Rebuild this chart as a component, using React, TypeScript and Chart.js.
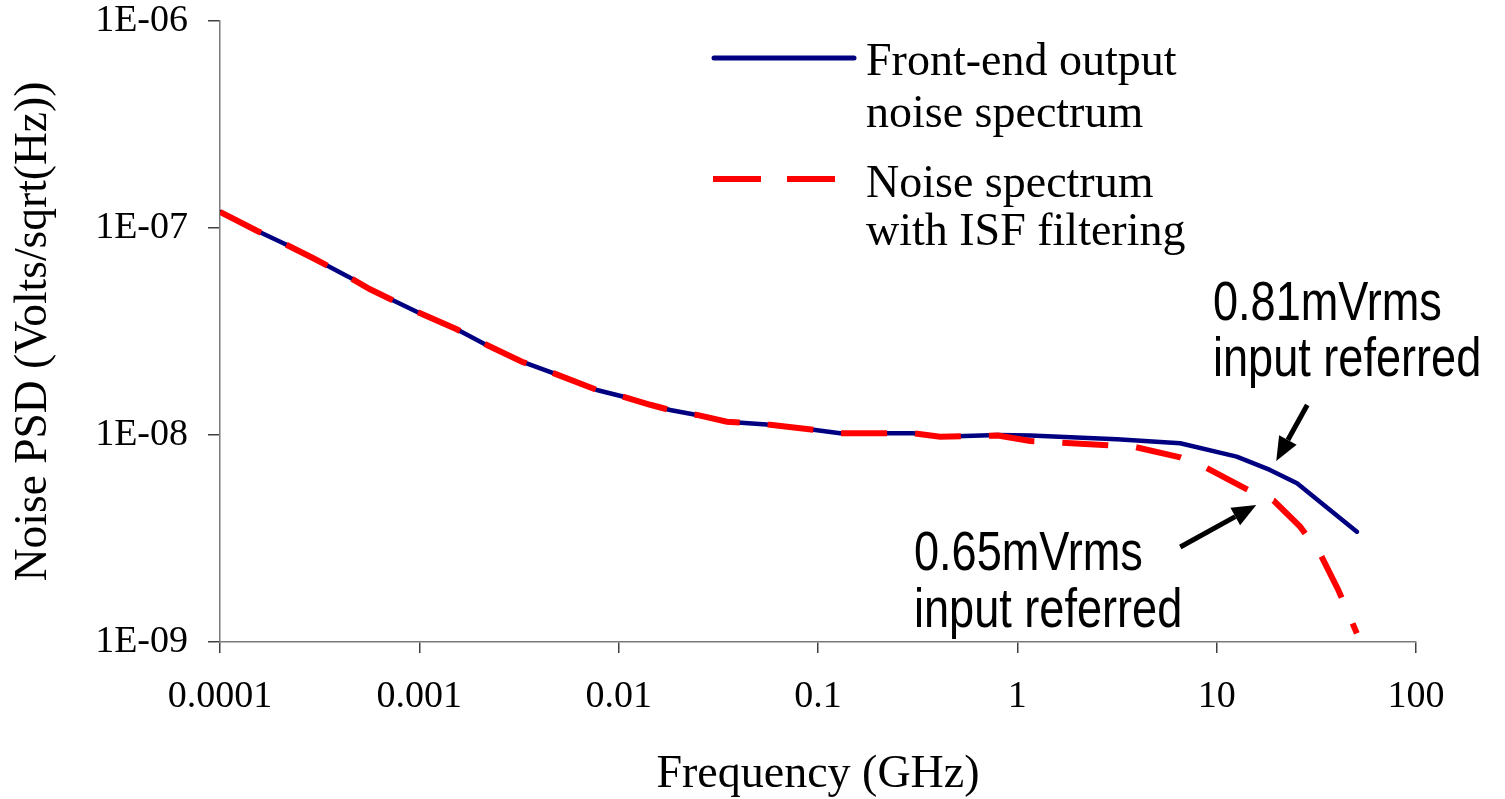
import React, { useEffect, useRef } from "react";
import { Chart, registerables } from "chart.js";

Chart.register(...registerables);

// ---- Data ----
const frontEndFreqGHz = [
  0.0001, 0.000153, 0.000208, 0.000294, 0.00044, 0.000566, 0.00097, 0.00154,
  0.0021, 0.00327, 0.0047, 0.00777, 0.0106, 0.0144, 0.0181, 0.0247, 0.0349,
  0.0575, 0.0948, 0.129, 0.301, 0.41, 0.8, 1.16, 3.16, 6.56, 12.6, 18.5, 25.3, 50.5,
];
const frontEndPsd = [
  1.195e-7, 9.7e-8, 8.44e-8, 7.14e-8, 5.82e-8, 5.06e-8, 3.94e-8, 3.24e-8,
  2.77e-8, 2.26e-8, 1.99e-8, 1.65e-8, 1.53e-8, 1.4e-8, 1.32e-8, 1.25e-8, 1.16e-8,
  1.12e-8, 1.06e-8, 1.02e-8, 1.02e-8, 9.8e-9, 1.0e-8, 9.95e-9, 9.53e-9, 9.12e-9,
  7.86e-9, 6.78e-9, 5.84e-9, 3.41e-9,
];
const isfFreqGHz = [
  0.0001, 0.000153, 0.000208, 0.000294, 0.00044, 0.000566, 0.00097, 0.00154,
  0.0021, 0.00327, 0.0047, 0.00777, 0.0106, 0.0144, 0.0181, 0.0247, 0.0349,
  0.0575, 0.0948, 0.129, 0.301, 0.41, 0.8, 1.16, 2.7, 3.83, 6.56, 8.76, 14.4,
  19.3, 26.2, 33.0, 40.8, 50.5,
];
const isfPsd = [
  1.195e-7, 9.7e-8, 8.44e-8, 7.14e-8, 5.82e-8, 5.06e-8, 3.94e-8, 3.24e-8,
  2.77e-8, 2.26e-8, 1.99e-8, 1.65e-8, 1.53e-8, 1.4e-8, 1.32e-8, 1.25e-8, 1.16e-8,
  1.12e-8, 1.06e-8, 1.02e-8, 1.02e-8, 9.8e-9, 9.95e-9, 9.35e-9, 8.95e-9, 8.78e-9,
  7.8e-9, 6.98e-9, 5.42e-9, 4.82e-9, 3.61e-9, 2.68e-9, 1.78e-9, 1.1e-9,
];

const xTickValues = [1e-4, 1e-3, 1e-2, 0.1, 1, 10, 100];
const xTickLabels = ["0.0001", "0.001", "0.01", "0.1", "1", "10", "100"];
const yTickValues = [1e-9, 1e-8, 1e-7, 1e-6];
const yTickLabels = ["1E-09", "1E-08", "1E-07", "1E-06"];

const seriesNames = ["Front-end output noise spectrum", "Noise spectrum with ISF filtering"];
const legendLines = [
  ["Front-end output", "noise spectrum"],
  ["Noise spectrum", "with ISF filtering"],
];
const xTitle = "Frequency (GHz)";
const yTitle = "Noise PSD (Volts/sqrt(Hz))";

// annotation texts and the data points their arrows point at
const noteTexts = [
  ["0.81mVrms", "input referred"],
  ["0.65mVrms", "input referred"],
];
const noteTargetFreqGHz = [19.9, 15.8];
const noteTargetPsd = [7.49e-9, 4.59e-9];

const SERIF = '"Liberation Serif", "Times New Roman", serif';
const SANS = '"Liberation Sans", Arial, sans-serif';

const overlayPlugin = {
  id: "overlay",
  afterDraw(chart: any) {
    const ctx: CanvasRenderingContext2D = chart.ctx;
    const xs = chart.scales.x;
    const ys = chart.scales.y;
    ctx.save();

    // ---- legend ----
    const ds0 = chart.data.datasets[0];
    const ds1 = chart.data.datasets[1];
    ctx.lineCap = "round";
    ctx.strokeStyle = ds0.borderColor;
    ctx.lineWidth = 5;
    ctx.beginPath();
    ctx.moveTo(714, 58);
    ctx.lineTo(854, 58);
    ctx.stroke();

    ctx.lineCap = "butt";
    ctx.strokeStyle = ds1.borderColor;
    ctx.lineWidth = 6;
    ctx.setLineDash([48, 26]);
    ctx.beginPath();
    ctx.moveTo(713, 179);
    ctx.lineTo(835, 179);
    ctx.stroke();
    ctx.setLineDash([]);

    ctx.fillStyle = "#000";
    ctx.font = `46px ${SERIF}`;
    ctx.textAlign = "left";
    ctx.textBaseline = "alphabetic";
    const legendBase = [
      [75, 127],
      [197, 245],
    ];
    legendLines.forEach((lines, i) => {
      lines.forEach((t, j) => ctx.fillText(t, 866, legendBase[i][j]));
    });

    // ---- annotations ----
    const textPos = [
      { x: 1213, y: [320, 376] },
      { x: 914, y: [570, 627] },
    ];
    const tailOffset = [
      { dx: 31, dy: -56 },
      { dx: -76, dy: 42 },
    ];
    const squeeze = 0.82; // narrow (condensed) sans look
    ctx.font = `55px ${SANS}`;
    noteTexts.forEach((lines, i) => {
      lines.forEach((t, j) => {
        ctx.save();
        ctx.translate(textPos[i].x, textPos[i].y[j]);
        ctx.scale(squeeze, 1);
        ctx.fillText(t, 0, 0);
        ctx.restore();
      });
      const tx = xs.getPixelForValue(noteTargetFreqGHz[i]);
      const ty = ys.getPixelForValue(noteTargetPsd[i]);
      const sx = tx + tailOffset[i].dx;
      const sy = ty + tailOffset[i].dy;
      const ang = Math.atan2(ty - sy, tx - sx);
      const headLen = 24;
      const headHalf = 10;
      const bx = tx - headLen * Math.cos(ang);
      const by = ty - headLen * Math.sin(ang);
      ctx.strokeStyle = "#000";
      ctx.lineWidth = 5;
      ctx.lineCap = "butt";
      ctx.beginPath();
      ctx.moveTo(sx, sy);
      ctx.lineTo(bx, by);
      ctx.stroke();
      ctx.beginPath();
      ctx.moveTo(tx, ty);
      ctx.lineTo(bx + headHalf * Math.sin(ang), by - headHalf * Math.cos(ang));
      ctx.lineTo(bx - headHalf * Math.sin(ang), by + headHalf * Math.cos(ang));
      ctx.closePath();
      ctx.fillStyle = "#000";
      ctx.fill();
    });

    ctx.restore();
  },
};

export default function App() {
  const canvasRef = useRef<HTMLCanvasElement | null>(null);

  useEffect(() => {
    const canvas = canvasRef.current;
    if (!canvas) return;
    const chart = new Chart(canvas, {
      type: "line",
      data: {
        datasets: [
          {
            label: seriesNames[0],
            data: frontEndFreqGHz.map((f, i) => ({ x: f, y: frontEndPsd[i] })),
            borderColor: "#000080",
            borderWidth: 4.5,
            pointRadius: 0,
            tension: 0,
            fill: false,
            borderCapStyle: "round",
            borderJoinStyle: "round",
            order: 1,
          },
          {
            label: seriesNames[1],
            data: isfFreqGHz.map((f, i) => ({ x: f, y: isfPsd[i] })),
            borderColor: "#ff0000",
            borderWidth: 6,
            borderDash: [46, 28],
            pointRadius: 0,
            tension: 0,
            fill: false,
            borderCapStyle: "butt",
            order: 0,
          },
        ],
      },
      options: {
        animation: false,
        responsive: false,
        events: [],
        layout: { padding: { top: 21, right: 89, bottom: 0, left: 0 } },
        plugins: { legend: { display: false }, tooltip: { enabled: false } },
        scales: {
          x: {
            type: "logarithmic",
            position: "bottom",
            min: 1e-4,
            max: 100,
            afterBuildTicks: (s: any) => {
              s.ticks = xTickValues.map((v) => ({ value: v }));
            },
            afterFit: (s: any) => {
              s.height = 157;
              s.paddingLeft = 0;
              s.paddingRight = 0;
            },
            ticks: {
              callback: (_v: any, i: number) => xTickLabels[i],
              font: { family: SERIF, size: 38, lineHeight: 1 },
              color: "#000",
              padding: 25,
              maxRotation: 0,
              autoSkip: false,
            },
            grid: {
              drawOnChartArea: false,
              drawTicks: true,
              tickLength: 11,
              color: "#404040",
              lineWidth: 1.5,
            },
            border: { display: true, color: "#7a7a7a", width: 1.5 },
            title: {
              display: true,
              text: xTitle,
              font: { family: SERIF, size: 46, lineHeight: 1 },
              color: "#000",
              padding: { top: 0, bottom: 1 },
            },
          },
          y: {
            type: "logarithmic",
            position: "left",
            min: 1e-9,
            max: 1e-6,
            afterBuildTicks: (s: any) => {
              s.ticks = yTickValues.map((v) => ({ value: v }));
            },
            afterFit: (s: any) => {
              s.width = 220;
              s.paddingTop = 0;
              s.paddingBottom = 0;
            },
            ticks: {
              callback: (_v: any, i: number) => yTickLabels[i],
              font: { family: SERIF, size: 38, lineHeight: 1 },
              color: "#000",
              padding: 20,
              autoSkip: false,
            },
            grid: {
              drawOnChartArea: false,
              drawTicks: true,
              tickLength: 12,
              color: "#404040",
              lineWidth: 1.5,
            },
            border: { display: true, color: "#7a7a7a", width: 1.5 },
            title: {
              display: true,
              text: yTitle,
              font: { family: SERIF, size: 45.5, lineHeight: 1 },
              color: "#000",
              padding: { top: 11, bottom: 0 },
            },
          },
        },
      } as any,
      plugins: [overlayPlugin],
    });
    return () => chart.destroy();
  }, []);

  return (
    <div
      style={{
        position: "fixed",
        left: 0,
        top: 0,
        width: 1505,
        height: 799,
        background: "#fff",
      }}
    >
      <canvas ref={canvasRef} width={1505} height={799} style={{ display: "block" }} />
    </div>
  );
}
